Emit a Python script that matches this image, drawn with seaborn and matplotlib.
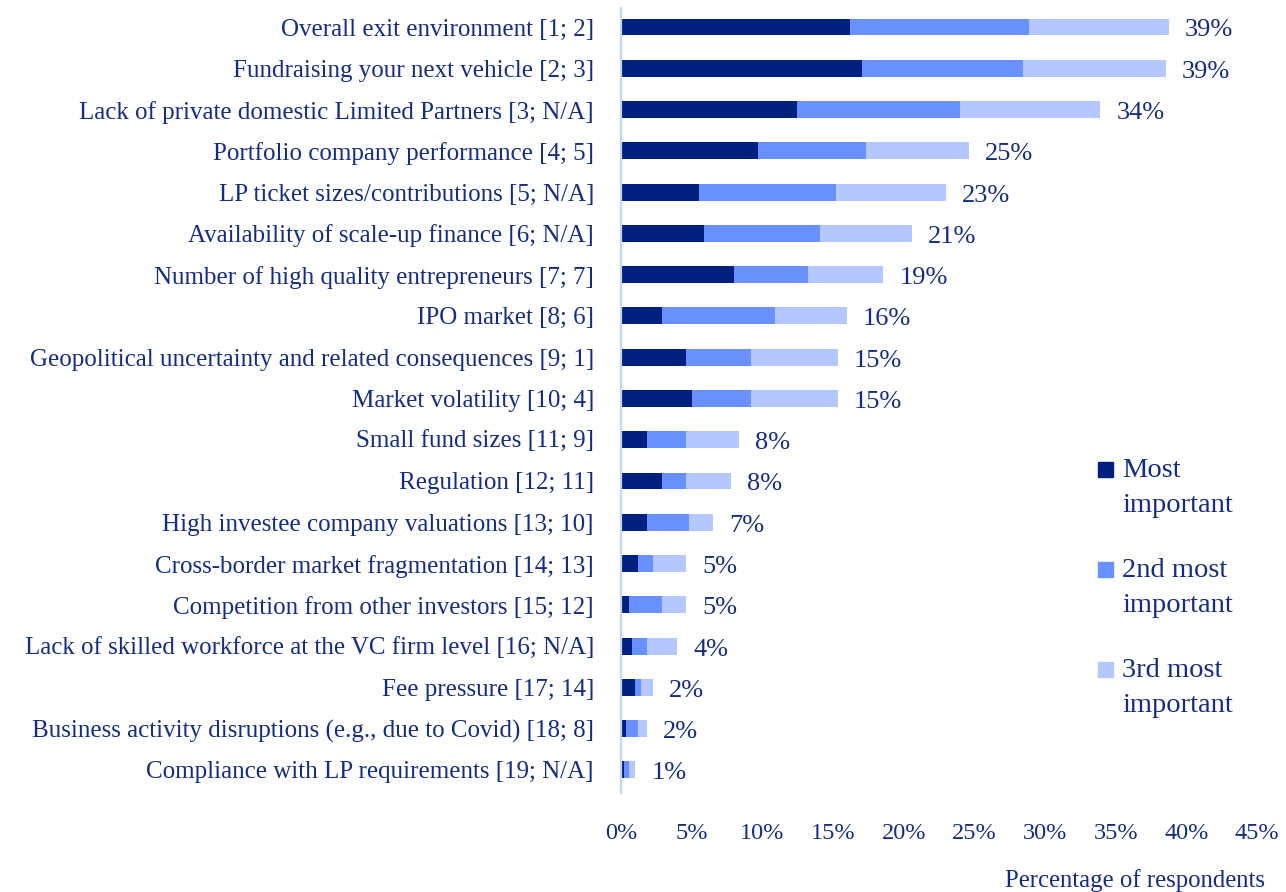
import numpy as np
import pandas as pd
import matplotlib
matplotlib.use("Agg")
import matplotlib.pyplot as plt
from matplotlib.patches import Rectangle
import seaborn as sns

# Challenges ranked by share of respondents (% naming it 1st / 2nd / 3rd)
categories = [
    "Overall exit environment [1; 2]",
    "Fundraising your next vehicle [2; 3]",
    "Lack of private domestic Limited Partners [3; N/A]",
    "Portfolio company performance [4; 5]",
    "LP ticket sizes/contributions [5; N/A]",
    "Availability of scale-up finance [6; N/A]",
    "Number of high quality entrepreneurs [7; 7]",
    "IPO market [8; 6]",
    "Geopolitical uncertainty and related consequences [9; 1]",
    "Market volatility [10; 4]",
    "Small fund sizes [11; 9]",
    "Regulation [12; 11]",
    "High investee company valuations [13; 10]",
    "Cross-border market fragmentation [14; 13]",
    "Competition from other investors [15; 12]",
    "Lack of skilled workforce at the VC firm level [16; N/A]",
    "Fee pressure [17; 14]",
    "Business activity disruptions (e.g., due to Covid) [18; 8]",
    "Compliance with LP requirements [19; N/A]",
]
most_important = [16.20, 17.05, 12.43, 9.70, 5.50, 5.90, 7.98, 2.90, 4.60, 5.02,
                  1.84, 2.90, 1.84, 1.23, 0.59, 0.78, 0.99, 0.38, 0.21]
second_most = [12.65, 11.41, 11.56, 7.60, 9.69, 8.20, 5.28, 7.97, 4.60, 4.18,
               2.76, 1.70, 2.97, 1.03, 2.31, 1.06, 0.43, 0.82, 0.38]
third_most = [9.92, 10.07, 9.92, 7.30, 7.79, 6.50, 5.31, 5.10, 6.13, 6.13,
              3.77, 3.16, 1.70, 2.34, 1.70, 2.15, 0.84, 0.66, 0.42]
series_names = ["Most\nimportant", "2nd most\nimportant", "3rd most\nimportant"]
x_ticks = [0, 5, 10, 15, 20, 25, 30, 35, 40, 45]

DARK = "#00207f"
MID = "#6990ff"
LIGHT = "#b4c7ff"
TEXT = "#142c84"
AXIS_LINE = "#c8d5f7"

sns.set_theme(style="white")
plt.rcParams["font.family"] = ["Liberation Serif", "DejaVu Serif"]

W, H = 1286, 892
fig = plt.figure(figsize=(W / 100, H / 100), dpi=100)
ax = fig.add_axes([621 / W, 1 - 793 / H, (1257 - 621) / W, (793 - 8) / H])

c1 = np.array(most_important)
c2 = c1 + np.array(second_most)
c3 = c2 + np.array(third_most)
df = pd.DataFrame({"factor": categories, "c1": c1, "c2": c2, "c3": c3})

# stacked bars: draw cumulative totals back to front
for col, color in [("c3", LIGHT), ("c2", MID), ("c1", DARK)]:
    sns.barplot(data=df, x=col, y="factor", color=color, saturation=1,
                width=0.41, orient="h", ax=ax, linewidth=0)

n = len(categories)
ax.set_xlim(0, 45)
ax.set_ylim(n - 1 + 0.56, -0.46)
ax.set_xticks(x_ticks)
ax.set_xticklabels([f"{v}%" for v in x_ticks])
ax.set_xlabel("")
ax.set_ylabel("")
ax.tick_params(axis="x", length=0, pad=21.5, labelsize=17.5, labelcolor=TEXT)
ax.tick_params(axis="y", length=0, pad=19.5, labelsize=18.0, labelcolor=TEXT)
for side in ["top", "right", "bottom"]:
    ax.spines[side].set_visible(False)
ax.spines["left"].set_color(AXIS_LINE)
ax.spines["left"].set_linewidth(1.6)

# total labels at bar ends
for i, total in enumerate(c3):
    ax.annotate(f"{round(total):.0f}%", xy=(total, i), xytext=(11.5, -2.5),
                textcoords="offset points", ha="left", va="center",
                fontsize=19, color=TEXT)

# legend
for k, (name, color) in enumerate(zip(series_names, [DARK, MID, LIGHT])):
    top = 462 + 100 * k
    fig.patches.append(Rectangle((1098 / W, 1 - (top + 15) / H), 15 / W, 15 / H,
                                 transform=fig.transFigure, color=color))
    fig.text(1122 / W, 1 - (top - 4) / H, name, ha="left", va="top",
             fontsize=20.5, color=TEXT, linespacing=1.52)

fig.text(1265 / W, 1 - 881 / H, "Percentage of respondents", ha="right",
         va="center", fontsize=17.8, color=TEXT)

fig.savefig("out.png", dpi=100, facecolor="white")
